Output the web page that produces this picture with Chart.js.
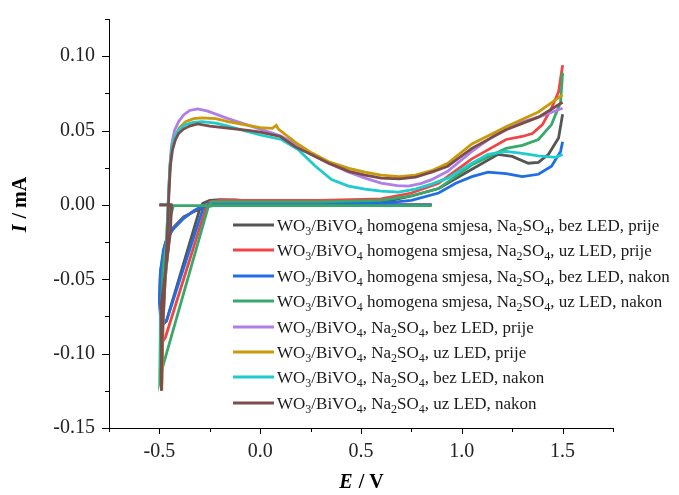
<!DOCTYPE html>
<html>
<head>
<meta charset="utf-8">
<script src="https://cdn.jsdelivr.net/npm/chart.js@4.4.1/dist/chart.umd.min.js"></script>
<style>
    html, body { margin: 0; padding: 0; background: #fff; }
    #wrap { width: 679px; height: 495px; }
</style>
</head>
<body>
<div id="wrap"><canvas id="cv" width="679" height="495"></canvas></div>
<script>
// series labels (legend order)
const seriesLabels = [
    "WO₃/BiVO₄ homogena smjesa, Na₂SO₄, bez LED, prije",
    "WO₃/BiVO₄ homogena smjesa, Na₂SO₄, uz LED, prije",
    "WO₃/BiVO₄ homogena smjesa, Na₂SO₄, bez LED, nakon",
    "WO₃/BiVO₄ homogena smjesa, Na₂SO₄, uz LED, nakon",
    "WO₃/BiVO₄, Na₂SO₄, bez LED, prije",
    "WO₃/BiVO₄, Na₂SO₄, uz LED, prije",
    "WO₃/BiVO₄, Na₂SO₄, bez LED, nakon",
    "WO₃/BiVO₄, Na₂SO₄, uz LED, nakon"
];

const seriesColors = [
    "#555555", "#f04545", "#1f6fe2", "#38a96b",
    "#b07ee6", "#c99a0a", "#1ecccc", "#7b4d4d"
];

// [E / V, I / mA] pairs
const homBezPrije = [
    [0.85, 0.000], [0.40, 0.000], [0.00, 0.000], [-0.20, 0.000], [-0.26, -0.001],
    [-0.32, -0.004], [-0.38, -0.008], [-0.43, -0.015], [-0.47, -0.025], [-0.495, -0.045],
    [-0.50, -0.065], [-0.48, -0.080], [-0.465, -0.078], [-0.30, -0.003], [-0.285, 0.001],
    [-0.25, 0.003], [-0.20, 0.0035], [-0.12, 0.0033], [-0.05, 0.0025], [0.20, 0.002],
    [0.50, 0.002], [0.65, 0.003], [0.75, 0.006], [0.885, 0.011], [1.05, 0.024],
    [1.18, 0.034], [1.25, 0.0326], [1.33, 0.028], [1.38, 0.0286], [1.43, 0.034],
    [1.48, 0.045], [1.50, 0.061]
];
const homUzPrije = [
    [0.85, 0.000], [0.00, 0.000], [-0.25, 0.000], [-0.29, -0.001], [-0.33, -0.004],
    [-0.38, -0.009], [-0.44, -0.017], [-0.47, -0.026], [-0.49, -0.045], [-0.498, -0.070],
    [-0.485, -0.092], [-0.47, -0.089], [-0.267, -0.001], [-0.25, 0.002], [-0.20, 0.003],
    [0.30, 0.003], [0.60, 0.004], [0.75, 0.008], [0.885, 0.0146], [1.05, 0.031],
    [1.22, 0.044], [1.30, 0.046], [1.35, 0.048], [1.40, 0.054], [1.445, 0.065],
    [1.48, 0.076], [1.50, 0.094]
];
const homBezNakon = [
    [0.85, 0.000], [0.00, 0.000], [-0.25, 0.000], [-0.29, -0.001], [-0.33, -0.004],
    [-0.38, -0.009], [-0.43, -0.016], [-0.46, -0.022], [-0.48, -0.030], [-0.495, -0.045],
    [-0.50, -0.065], [-0.49, -0.078], [-0.465, -0.078], [-0.28, -0.001], [-0.25, 0.001],
    [0.00, 0.001], [0.40, 0.001], [0.60, 0.001], [0.75, 0.003], [0.885, 0.008],
    [0.97, 0.0146], [1.05, 0.019], [1.13, 0.022], [1.22, 0.021], [1.30, 0.019],
    [1.38, 0.0206], [1.445, 0.026], [1.49, 0.036], [1.50, 0.0425]
];
const homUzNakon = [
    [0.85, -0.0005], [0.00, -0.0005], [-0.43, -0.0005], [-0.45, -0.010], [-0.48, -0.040],
    [-0.495, -0.080], [-0.498, -0.117], [-0.49, -0.112], [-0.465, -0.100], [-0.257, -0.001],
    [-0.24, 0.002], [-0.10, 0.002], [0.30, 0.002], [0.60, 0.003], [0.75, 0.006],
    [0.885, 0.011], [1.05, 0.027], [1.22, 0.038], [1.30, 0.040], [1.38, 0.044],
    [1.445, 0.054], [1.49, 0.069], [1.50, 0.089]
];
const bvBezPrije = [
    [-0.50, 0.000], [-0.445, 0.000], [-0.45, -0.020], [-0.485, -0.070], [-0.488, -0.120],
    [-0.482, -0.080], [-0.468, -0.040], [-0.46, -0.010], [-0.455, 0.005], [-0.448, 0.026],
    [-0.44, 0.040], [-0.425, 0.050], [-0.405, 0.056], [-0.38, 0.0605], [-0.35, 0.0635],
    [-0.31, 0.0645], [-0.26, 0.063], [-0.21, 0.0605], [-0.16, 0.058], [-0.08, 0.0545],
    [0.00, 0.051], [0.10, 0.0465], [0.175, 0.041], [0.255, 0.034], [0.34, 0.028],
    [0.44, 0.022], [0.52, 0.018], [0.60, 0.0146], [0.68, 0.013], [0.735, 0.0126],
    [0.80, 0.0145], [0.85, 0.017], [0.93, 0.0226], [1.05, 0.036], [1.22, 0.0525],
    [1.38, 0.059], [1.50, 0.065]
];
const bvUzPrije = [
    [-0.50, 0.000], [-0.445, 0.000], [-0.45, -0.020], [-0.485, -0.070], [-0.488, -0.125],
    [-0.482, -0.080], [-0.468, -0.040], [-0.46, -0.010], [-0.455, 0.005], [-0.448, 0.025],
    [-0.438, 0.038], [-0.42, 0.047], [-0.40, 0.052], [-0.37, 0.056], [-0.33, 0.058],
    [-0.29, 0.0585], [-0.22, 0.058], [-0.16, 0.056], [-0.08, 0.054], [0.00, 0.052],
    [0.06, 0.0515], [0.08, 0.0535], [0.09, 0.051], [0.175, 0.042], [0.255, 0.035],
    [0.34, 0.029], [0.44, 0.0246], [0.52, 0.022], [0.60, 0.020], [0.69, 0.019],
    [0.77, 0.020], [0.85, 0.023], [0.93, 0.028], [1.05, 0.041], [1.22, 0.0525],
    [1.38, 0.0625], [1.50, 0.074]
];
const bvBezNakon = [
    [-0.50, 0.000], [-0.445, 0.000], [-0.45, -0.020], [-0.488, -0.070], [-0.492, -0.110],
    [-0.486, -0.075], [-0.47, -0.040], [-0.46, -0.010], [-0.455, 0.005], [-0.448, 0.026],
    [-0.438, 0.039], [-0.42, 0.047], [-0.40, 0.051], [-0.37, 0.054], [-0.33, 0.0555],
    [-0.29, 0.056], [-0.22, 0.055], [-0.16, 0.053], [-0.08, 0.050], [0.00, 0.047],
    [0.105, 0.044], [0.19, 0.037], [0.274, 0.026], [0.354, 0.017], [0.438, 0.0126],
    [0.52, 0.0106], [0.60, 0.0093], [0.686, 0.0086], [0.77, 0.0106], [0.85, 0.014],
    [0.93, 0.018], [1.05, 0.028], [1.13, 0.034], [1.22, 0.036], [1.30, 0.0346],
    [1.38, 0.033], [1.465, 0.032], [1.50, 0.034]
];
const bvUzNakon = [
    [-0.50, 0.000], [-0.44, 0.000], [-0.445, -0.018], [-0.49, -0.066], [-0.49, -0.125],
    [-0.485, -0.085], [-0.47, -0.045], [-0.458, -0.012], [-0.455, 0.000], [-0.452, 0.010],
    [-0.445, 0.027], [-0.435, 0.037], [-0.42, 0.044], [-0.405, 0.048], [-0.38, 0.051],
    [-0.35, 0.053], [-0.31, 0.0545], [-0.25, 0.053], [-0.15, 0.0515], [-0.05, 0.050],
    [0.00, 0.049], [0.10, 0.046], [0.175, 0.039], [0.25, 0.034], [0.34, 0.028],
    [0.44, 0.0226], [0.52, 0.020], [0.60, 0.018], [0.69, 0.0175], [0.77, 0.0186],
    [0.85, 0.022], [0.93, 0.026], [1.05, 0.038], [1.22, 0.0505], [1.38, 0.059],
    [1.50, 0.069]
];

const seriesData = [
    homBezPrije, homUzPrije, homBezNakon, homUzNakon,
    bvBezPrije, bvUzPrije, bvBezNakon, bvUzNakon
];

const xMin = -0.75, xMax = 1.75, xStep = 0.25, xMajor = 0.5;
const yMin = -0.15, yMax = 0.125, yStep = 0.025, yMajor = 0.05;
const xTitle = ["E", " / V"];
const yTitle = ["I", " / mA"];

const serif = '"Liberation Serif", "Times New Roman", serif';

function isMajor(v, step) {
    const r = v / step;
    return Math.abs(r - Math.round(r)) < 1e-6;
}

// major/minor tick marks, drawn outside the axes
const tickMarks = {
    id: "tickMarks",
    afterDraw(chart) {
        const ctx = chart.ctx;
        const xs = chart.scales.x;
        const ys = chart.scales.y;
        const area = chart.chartArea;
        ctx.save();
        ctx.strokeStyle = "#000";
        ctx.lineWidth = 1;
        ctx.beginPath();
        for (const t of xs.ticks) {
            const px = Math.round(xs.getPixelForValue(t.value)) + 0.5;
            const len = isMajor(t.value, xMajor) ? 6 : 4;
            ctx.moveTo(px, area.bottom);
            ctx.lineTo(px, area.bottom + len);
        }
        for (const t of ys.ticks) {
            const py = Math.round(ys.getPixelForValue(t.value)) + 0.5;
            const len = isMajor(t.value, yMajor) ? 7 : 4;
            ctx.moveTo(area.left, py);
            ctx.lineTo(area.left - len, py);
        }
        ctx.stroke();
        ctx.restore();
    }
};

// axis titles: italic symbol followed by upright unit
function drawTitle(ctx, parts, cx, cy, rotate) {
    ctx.save();
    ctx.translate(cx, cy);
    if (rotate) ctx.rotate(-Math.PI / 2);
    const f1 = "italic bold 20px " + serif;
    const f2 = "bold 20px " + serif;
    ctx.font = f1;
    const w1 = ctx.measureText(parts[0]).width;
    ctx.font = f2;
    const w2 = ctx.measureText(parts[1]).width;
    let x = -(w1 + w2) / 2;
    ctx.fillStyle = "#000";
    ctx.textBaseline = "middle";
    ctx.textAlign = "left";
    ctx.font = f1;
    ctx.fillText(parts[0], x, 0);
    ctx.font = f2;
    ctx.fillText(parts[1], x + w1 + 1, 0);
    ctx.restore();
}

const axisTitles = {
    id: "axisTitles",
    afterDraw(chart) {
        const area = chart.chartArea;
        drawTitle(chart.ctx, xTitle, (area.left + area.right) / 2, 483, false);
        drawTitle(chart.ctx, yTitle, 21, 205, true);
    }
};

// legend inside the plot, with real subscripts
const subDigits = "₀₁₂₃₄₅₆₇₈₉";

function drawRich(ctx, text, x, y) {
    const base = "17px " + serif;
    const small = "12px " + serif;
    let run = "";
    let sub = false;
    const flush = () => {
        if (!run) return;
        ctx.font = sub ? small : base;
        ctx.fillText(run, x, sub ? y + 4 : y);
        x += ctx.measureText(run).width;
        run = "";
    };
    for (const ch of text) {
        const k = subDigits.indexOf(ch);
        const isSub = k >= 0;
        if (isSub !== sub) {
            flush();
            sub = isSub;
        }
        run += isSub ? String(k) : ch;
    }
    flush();
}

const insideLegend = {
    id: "insideLegend",
    afterDraw(chart) {
        const ctx = chart.ctx;
        const area = chart.chartArea;
        const x0 = area.left + 124;
        const y0 = area.top + 206;
        const rowH = 25.4;
        ctx.save();
        ctx.textBaseline = "alphabetic";
        ctx.textAlign = "left";
        chart.data.datasets.forEach((ds, i) => {
            const y = Math.round(y0 + i * rowH);
            ctx.strokeStyle = ds.borderColor;
            ctx.lineWidth = 3;
            ctx.beginPath();
            ctx.moveTo(x0, y);
            ctx.lineTo(x0 + 41, y);
            ctx.stroke();
            ctx.fillStyle = "#1a1a1a";
            drawRich(ctx, ds.label, x0 + 44, y + 6);
        });
        ctx.restore();
    }
};

const datasets = seriesData.map((pts, i) => ({
    label: seriesLabels[i],
    data: pts.map(p => ({ x: p[0], y: p[1] })),
    borderColor: seriesColors[i],
    backgroundColor: seriesColors[i],
    borderWidth: 2.8,
    showLine: true,
    pointRadius: 0,
    tension: 0,
    order: seriesData.length - i
}));

new Chart(document.getElementById("cv").getContext("2d"), {
    type: "scatter",
    data: { datasets },
    plugins: [tickMarks, axisTitles, insideLegend],
    options: {
        responsive: false,
        animation: false,
        devicePixelRatio: 1,
        layout: { padding: { left: 0, top: 16, right: 66, bottom: 0 } },
        plugins: {
            legend: { display: false },
            tooltip: { enabled: false }
        },
        scales: {
            x: {
                type: "linear",
                min: xMin,
                max: xMax,
                afterFit: (scale) => { scale.height = 67; },
                border: { display: true, color: "#000", width: 1 },
                grid: { display: true, drawOnChartArea: false, drawTicks: true, tickLength: 6, color: "rgba(0,0,0,0)" },
                ticks: {
                    stepSize: xStep,
                    maxTicksLimit: 40,
                    autoSkip: false,
                    maxRotation: 0,
                    padding: 6,
                    color: "#222",
                    font: { family: serif, size: 20 },
                    callback: (v) => {
                        if (!isMajor(v, xMajor) || v < -0.51 || v > 1.51) return "";
                        return (Math.abs(v) < 1e-9 ? 0 : v).toFixed(1);
                    }
                }
            },
            y: {
                type: "linear",
                min: yMin,
                max: yMax,
                afterFit: (scale) => { scale.width = 109; },
                border: { display: true, color: "#000", width: 1 },
                grid: { display: true, drawOnChartArea: false, drawTicks: true, tickLength: 7, color: "rgba(0,0,0,0)" },
                ticks: {
                    stepSize: yStep,
                    maxTicksLimit: 40,
                    autoSkip: false,
                    padding: 7,
                    color: "#222",
                    font: { family: serif, size: 20 },
                    callback: (v) => {
                        if (!isMajor(v, yMajor)) return "";
                        return (Math.abs(v) < 1e-9 ? 0 : v).toFixed(2);
                    }
                }
            }
        }
    }
});
</script>
</body>
</html>
